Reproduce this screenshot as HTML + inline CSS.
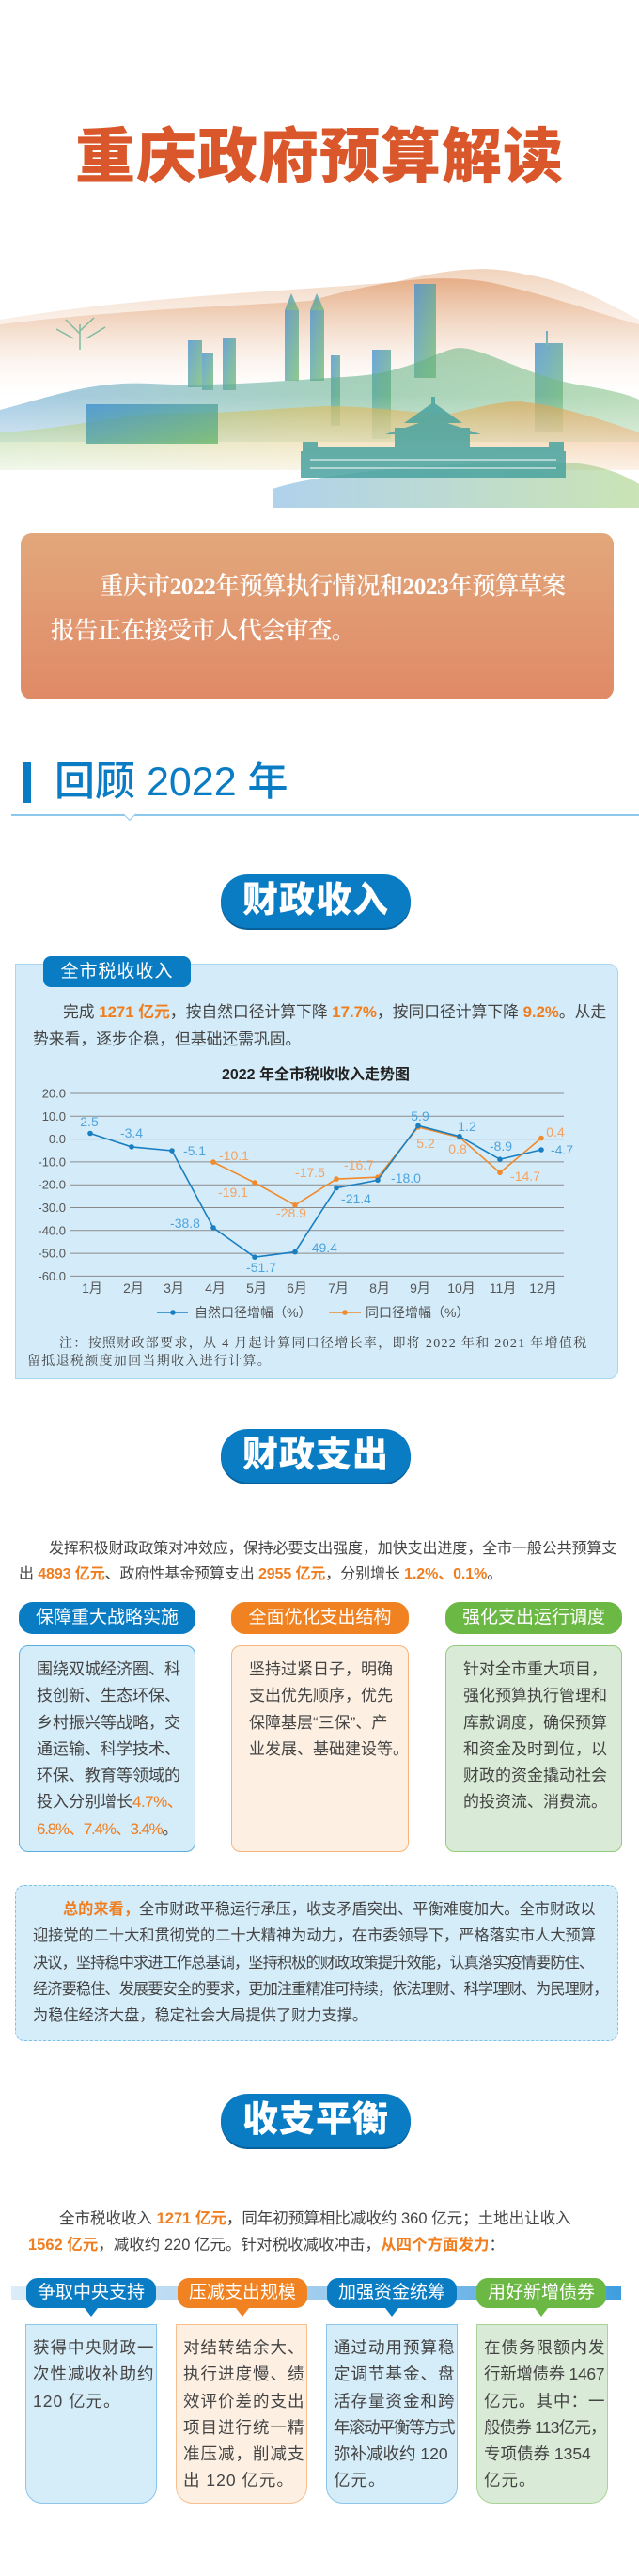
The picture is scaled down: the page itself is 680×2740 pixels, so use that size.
<!DOCTYPE html>
<html><head><meta charset="utf-8">
<style>
*{margin:0;padding:0;box-sizing:border-box}
body{width:680px;height:2740px;background:#fff;position:relative;overflow:hidden;font-family:"Liberation Sans","Noto Sans CJK SC",sans-serif;color:#444}
.a{position:absolute}
.nw{white-space:nowrap}
.title{left:0;width:680px;top:132px;text-align:center;font-size:64px;font-weight:900;color:#d9572b;letter-spacing:1px;line-height:70px}
.obox{left:22px;top:567px;width:631px;height:177px;border-radius:12px;background:linear-gradient(#e2a77b,#e08a66)}
.otext{left:54px;top:600px;width:600px;font-family:"Liberation Serif","Noto Serif CJK SC",serif;font-size:25.5px;line-height:47px;color:#fff;font-weight:600;white-space:nowrap;letter-spacing:-0.6px}
.pill{left:235px;width:202px;height:57px;border-radius:29px;background:#0a7cc4;color:#fff;font-size:38px;font-weight:900;text-align:center;line-height:57px;letter-spacing:1px;box-shadow:0 2px 0 #07609a}
.p{font-size:16px;line-height:28px}
.o{color:#f07d1e;font-weight:bold}
.hd{height:34px;border-radius:15px;color:#fff;font-size:19px;text-align:center;line-height:34px}
.bx{border-radius:10px;padding:11px 0 0 18px;font-size:17px;line-height:28.3px;white-space:nowrap}
.h4{top:2423px;height:32px;border-radius:12px;color:#fff;font-size:19px;text-align:center;line-height:32px;width:138px}
.h4:after{content:"";position:absolute;left:62px;bottom:-9px;border-left:7px solid transparent;border-right:7px solid transparent;border-top:9px solid currentColor}
.b4{top:2472px;height:191px;width:140px;border-radius:0 0 18px 18px;padding:10px 0 0 7px;font-size:17.5px;line-height:28.3px;letter-spacing:1px;white-space:nowrap}
</style></head><body>

<div class="a title">重庆政府预算解读</div>

<svg class="a" style="left:0;top:280px" width="680" height="260" viewBox="0 280 680 260">
<defs>
<linearGradient id="g1" x1="0" y1="0" x2="0" y2="1"><stop offset="0" stop-color="#e4a980"/><stop offset="1" stop-color="#fff" stop-opacity="0"/></linearGradient>
<linearGradient id="g0" x1="0" y1="0" x2="0" y2="1"><stop offset="0" stop-color="#f1d3bc"/><stop offset="1" stop-color="#fff" stop-opacity="0"/></linearGradient>
<linearGradient id="g3" x1="0" y1="0" x2="1" y2="0"><stop offset="0" stop-color="#5a9fd0"/><stop offset=".6" stop-color="#5fae80"/><stop offset="1" stop-color="#7fbf80"/></linearGradient>
<linearGradient id="g4" x1="0" y1="0" x2="1" y2="0"><stop offset="0" stop-color="#8cc060"/><stop offset=".5" stop-color="#d7b040"/><stop offset="1" stop-color="#e68d3a"/></linearGradient>
<linearGradient id="g5" x1="0" y1="0" x2="1" y2="0"><stop offset="0" stop-color="#4f9bd4"/><stop offset="1" stop-color="#8ac25a"/></linearGradient>
<linearGradient id="fade" x1="0" y1="0" x2="0" y2="1"><stop offset="0" stop-color="#fff" stop-opacity="0"/><stop offset="1" stop-color="#fff" stop-opacity="1"/></linearGradient>
<linearGradient id="bd" x1="0" y1="0" x2="1" y2="1"><stop offset="0" stop-color="#3f8fd0"/><stop offset="1" stop-color="#6cb86a"/></linearGradient>
</defs>
<path d="M0,340 C150,315 300,310 420,300 C480,285 520,282 560,292 C610,300 650,325 680,340 L680,420 L0,420Z" fill="url(#g0)"/>
<path d="M0,345 C120,330 260,325 330,320 C400,300 460,290 520,300 C590,315 640,335 680,345 L680,430 L0,430Z" fill="url(#g1)" opacity=".9"/>
<g fill="url(#bd)" opacity=".75">
<rect x="303" y="330" width="15" height="75"/><polygon points="303,330 310,312 318,330"/>
<rect x="330" y="330" width="15" height="75"/><polygon points="330,330 337,312 345,330"/>
<rect x="441" y="302" width="23" height="100"/>
<rect x="200" y="362" width="15" height="50"/><rect x="215" y="375" width="12" height="40"/><rect x="237" y="360" width="14" height="55"/>
<rect x="352" y="378" width="10" height="75"/>
<rect x="396" y="372" width="20" height="95"/>
<rect x="569" y="365" width="30" height="95"/><rect x="581" y="352" width="2" height="15"/>
</g>
<path d="M0,436 C60,420 100,405 160,408 C230,412 300,405 380,400 C440,395 470,370 490,370 C520,372 560,400 620,410 C650,415 670,420 680,425 L680,470 L0,470Z" fill="url(#g3)" opacity=".55"/>
<path d="M0,460 C80,455 130,440 180,440 C240,440 280,435 347,432 C400,432 440,440 480,440 C520,430 545,425 560,428 C600,432 650,450 680,460 L680,500 L0,500Z" fill="url(#g4)" opacity=".6"/>
<rect x="0" y="420" width="680" height="100" fill="url(#fade)"/>
<g fill="url(#bd)" opacity=".8"><rect x="92" y="430" width="140" height="42"/></g>
<path d="M290,520 C350,500 500,490 607,492 C640,495 665,505 680,515 L680,540 L290,540Z" fill="url(#g5)" opacity=".45"/>
<g fill="#4aa3a0" opacity=".85">
<rect x="320" y="480" width="282" height="28"/>
<rect x="330" y="475" width="262" height="6"/>
<rect x="420" y="455" width="80" height="30"/>
<polygon points="430,450 461,428 492,450"/>
<polygon points="410,462 461,445 512,462"/>
<rect x="459" y="422" width="4" height="8"/>
<rect x="322" y="470" width="16" height="12"/><rect x="584" y="470" width="16" height="12"/>
</g>
<g fill="#fff" opacity=".5"><rect x="330" y="488" width="262" height="2"/><rect x="330" y="497" width="262" height="2"/></g>
<g stroke="#60b090" stroke-width="1.5" fill="none" opacity=".8"><path d="M85,372 L85,345 M85,355 L70,340 M85,352 L100,338 M78,360 L60,350 M92,360 L112,348"/></g>
</svg>

<div class="a obox"></div>
<div class="a otext"><span style="padding-left:52px"></span>重庆市2022年预算执行情况和2023年预算草案<br>报告正在接受市人代会审查。</div>

<div class="a" style="left:25px;top:811px;width:8px;height:43px;background:#0a7cc4"></div>
<div class="a" style="left:58px;top:804px;font-size:43px;line-height:56px;color:#0a7cc4;font-weight:500">回顾 2022 年</div>
<div class="a" style="left:12px;top:866px;width:668px;height:1.5px;background:#8cc8ec"></div>
<div class="a" style="left:135px;top:866px;width:10px;height:10px;border-right:1.5px solid #8cc8ec;border-bottom:1.5px solid #8cc8ec;background:#fff;transform:rotate(45deg) translate(-5px,-2px)"></div>

<div class="a pill" style="top:930px">财政收入</div>

<div class="a" style="left:16px;top:1025px;width:642px;height:442px;background:#d4ecf9;border:1px solid #a9d6f1;border-radius:0 10px 10px 0"></div>
<div class="a" style="left:46px;top:1017px;width:157px;height:33px;background:#0a7cc4;border-radius:8px;color:#fff;font-size:19px;line-height:33px;text-align:center;letter-spacing:1px">全市税收收入</div>
<div class="a p nw" style="left:35px;top:1062px;font-size:16.8px;line-height:29px"><span style="padding-left:32px"></span>完成 <span class="o">1271 亿元</span>，按自然口径计算下降 <span class="o">17.7%</span>，按同口径计算下降 <span class="o">9.2%</span>。从走<br>势来看，逐步企稳，但基础还需巩固。</div>

<svg class="a" style="left:0;top:1130px" width="680" height="280" viewBox="0 1130 680 280" font-family="Liberation Sans, Noto Sans CJK SC, sans-serif">
<text x="336" y="1148" text-anchor="middle" font-size="16" font-weight="bold" fill="#222">2022 年全市税收收入走势图</text>
<g stroke="#8a8a8a" stroke-width="1">
<line x1="75" x2="600" y1="1163" y2="1163"/><line x1="75" x2="600" y1="1187.3" y2="1187.3"/><line x1="75" x2="600" y1="1211.6" y2="1211.6"/><line x1="75" x2="600" y1="1235.9" y2="1235.9"/><line x1="75" x2="600" y1="1260.2" y2="1260.2"/><line x1="75" x2="600" y1="1284.5" y2="1284.5"/><line x1="75" x2="600" y1="1308.8" y2="1308.8"/><line x1="75" x2="600" y1="1333.1" y2="1333.1"/><line x1="75" x2="600" y1="1357.4" y2="1357.4"/>
</g>
<g font-size="13" fill="#555" text-anchor="end">
<text x="70" y="1167.5">20.0</text><text x="70" y="1191.8">10.0</text><text x="70" y="1216.1">0.0</text><text x="70" y="1240.4">-10.0</text><text x="70" y="1264.7">-20.0</text><text x="70" y="1289">-30.0</text><text x="70" y="1313.3">-40.0</text><text x="70" y="1337.6">-50.0</text><text x="70" y="1361.9">-60.0</text>
</g>
<polyline fill="none" stroke="#f08a2a" stroke-width="1.6" points="227,1236.1 271,1258 314,1281.8 358,1254.1 402,1252.2 445,1198.9 489,1209.7 532,1247.3 576,1210.6"/>
<g fill="#f08a2a"><circle cx="227" cy="1236.1" r="2.8"/><circle cx="271" cy="1258" r="2.8"/><circle cx="314" cy="1281.8" r="2.8"/><circle cx="358" cy="1254.1" r="2.8"/><circle cx="402" cy="1252.2" r="2.8"/><circle cx="445" cy="1198.9" r="2.8"/><circle cx="489" cy="1209.7" r="2.8"/><circle cx="532" cy="1247.3" r="2.8"/><circle cx="576" cy="1210.6" r="2.8"/></g>
<polyline fill="none" stroke="#1a7fc1" stroke-width="1.6" points="96,1205.5 140,1219.9 183,1224 227,1305.9 271,1337.2 314,1331.6 358,1263.6 402,1255.3 445,1197.3 489,1208.7 532,1233.2 576,1223"/>
<g fill="#1a7fc1"><circle cx="96" cy="1205.5" r="2.8"/><circle cx="140" cy="1219.9" r="2.8"/><circle cx="183" cy="1224" r="2.8"/><circle cx="227" cy="1305.9" r="2.8"/><circle cx="271" cy="1337.2" r="2.8"/><circle cx="314" cy="1331.6" r="2.8"/><circle cx="358" cy="1263.6" r="2.8"/><circle cx="402" cy="1255.3" r="2.8"/><circle cx="445" cy="1197.3" r="2.8"/><circle cx="489" cy="1208.7" r="2.8"/><circle cx="532" cy="1233.2" r="2.8"/><circle cx="576" cy="1223" r="2.8"/></g>
<g font-size="14" fill="#4fa3dd" text-anchor="middle">
<text x="95" y="1198">2.5</text><text x="140" y="1210">-3.4</text><text x="207" y="1229">-5.1</text><text x="197" y="1306">-38.8</text><text x="278" y="1353">-51.7</text><text x="343" y="1332">-49.4</text><text x="379" y="1280">-21.4</text><text x="432" y="1258">-18.0</text><text x="447" y="1192">5.9</text><text x="497" y="1203">1.2</text><text x="533" y="1224">-8.9</text><text x="598" y="1228">-4.7</text>
</g>
<g font-size="14" fill="#f3a262" text-anchor="middle">
<text x="249" y="1234">-10.1</text><text x="248" y="1273">-19.1</text><text x="310" y="1295">-28.9</text><text x="330" y="1252">-17.5</text><text x="382" y="1244">-16.7</text><text x="453" y="1221">5.2</text><text x="487" y="1227">0.8</text><text x="559" y="1256">-14.7</text><text x="591" y="1209">0.4</text>
</g>
<g font-size="14" fill="#555" text-anchor="middle">
<text x="98" y="1375">1月</text><text x="142" y="1375">2月</text><text x="185" y="1375">3月</text><text x="229" y="1375">4月</text><text x="273" y="1375">5月</text><text x="316" y="1375">6月</text><text x="360" y="1375">7月</text><text x="404" y="1375">8月</text><text x="447" y="1375">9月</text><text x="491" y="1375">10月</text><text x="535" y="1375">11月</text><text x="578" y="1375">12月</text>
</g>
<line x1="167" x2="200" y1="1396" y2="1396" stroke="#1a7fc1" stroke-width="1.6"/><circle cx="184" cy="1396" r="2.8" fill="#1a7fc1"/>
<text x="207" y="1401" font-size="14" fill="#555">自然口径增幅（%）</text>
<line x1="350" x2="384" y1="1396" y2="1396" stroke="#f08a2a" stroke-width="1.6"/><circle cx="367" cy="1396" r="2.8" fill="#f08a2a"/>
<text x="389" y="1401" font-size="14" fill="#555">同口径增幅（%）</text>
</svg>
<div class="a" style="left:29px;top:1420px;width:610px;font-family:'Liberation Serif','Noto Serif CJK SC',serif;font-size:14px;line-height:19px;color:#444;text-indent:34px;letter-spacing:1.3px">注：按照财政部要求，从 4 月起计算同口径增长率，即将 2022 年和 2021 年增值税留抵退税额度加回当期收入进行计算。</div>

<div class="a pill" style="top:1520px">财政支出</div>

<div class="a p nw" style="left:20px;top:1634px;line-height:27px;letter-spacing:-0.1px"><span style="padding-left:32px"></span>发挥积极财政政策对冲效应，保持必要支出强度，加快支出进度，全市一般公共预算支<br>出 <span class="o">4893 亿元</span>、政府性基金预算支出 <span class="o">2955 亿元</span>，分别增长 <span class="o">1.2%、0.1%</span>。</div>

<div class="a hd" style="left:20px;top:1704px;width:188px;background:#0a7cc4">保障重大战略实施</div>
<div class="a hd" style="left:246px;top:1704px;width:189px;background:#f08222">全面优化支出结构</div>
<div class="a hd" style="left:474px;top:1704px;width:188px;background:#6cb845">强化支出运行调度</div>
<div class="a bx" style="left:20px;top:1750px;width:188px;height:220px;background:#d5ecf9;border:1.2px solid #5aaee3">围绕双城经济圈、科<br>技创新、生态环保、<br>乡村振兴等战略，交<br>通运输、科学技术、<br>环保、教育等领域的<br>投入分别增长<span style="color:#f07d1e;letter-spacing:-0.5px">4.7%、</span><br><span style="color:#f07d1e;letter-spacing:-1.2px">6.8%、7.4%、3.4%</span>。</div>
<div class="a bx" style="left:246px;top:1750px;width:189px;height:220px;background:#fdf0e3;border:1.2px solid #f8b47a">坚持过紧日子，明确<br>支出优先顺序，优先<br>保障基层“三保”、产<br>业发展、基础建设等。</div>
<div class="a bx" style="left:474px;top:1750px;width:188px;height:220px;background:#d9ebd6;border:1.2px solid #93cc7d">针对全市重大项目，<br>强化预算执行管理和<br>库款调度，确保预算<br>和资金及时到位，以<br>财政的资金撬动社会<br>的投资流、消费流。</div>

<div class="a" style="left:16px;top:2005px;width:642px;height:166px;background:#d5ecf9;border:1.5px dashed #7fc0e8;border-radius:10px"></div>
<div class="a p nw" style="left:35px;top:2017px;line-height:28.3px;font-size:16.2px"><span style="padding-left:32px"></span><span class="o">总的来看，</span>全市财政平稳运行承压，收支矛盾突出、平衡难度加大。全市财政以<br>迎接党的二十大和贯彻党的二十大精神为动力，在市委领导下，严格落实市人大预算<br><span style="letter-spacing:-0.9px">决议，坚持稳中求进工作总基调，坚持积极的财政政策提升效能，认真落实疫情要防住、</span><br><span style="letter-spacing:-0.9px">经济要稳住、发展要安全的要求，更加注重精准可持续，依法理财、科学理财、为民理财，</span><br>为稳住经济大盘，稳定社会大局提供了财力支撑。</div>

<div class="a pill" style="top:2227px">收支平衡</div>

<div class="a p nw" style="left:30px;top:2346px;font-size:16.5px;line-height:28px"><span style="padding-left:33px"></span>全市税收收入 <span class="o">1271 亿元</span>，同年初预算相比减收约 360 亿元；土地出让收入<br><span class="o">1562 亿元</span>，减收约 220 亿元。针对税收减收冲击，<span class="o">从四个方面发力</span>：</div>

<div class="a" style="left:12px;top:2432px;width:649px;height:14px;background:linear-gradient(90deg,#dcecf8,#9fcdee 50%,#3f9ee0)"></div>
<div class="a h4" style="left:28px;background:#0a7cc4;color:#0a7cc4"><span style="color:#fff">争取中央支持</span></div>
<div class="a h4" style="left:189px;background:#f08222;color:#f08222"><span style="color:#fff">压减支出规模</span></div>
<div class="a h4" style="left:348px;background:#0a7cc4;color:#0a7cc4"><span style="color:#fff">加强资金统筹</span></div>
<div class="a h4" style="left:507px;background:#6cb845;color:#6cb845"><span style="color:#fff">用好新增债券</span></div>

<div class="a b4" style="left:27px;background:#d5ecf9;border:1.2px solid #8cc6ec">获得中央财政一<br>次性减收补助约<br>120 亿元。</div>
<div class="a b4" style="left:187px;background:#fdf0e3;border:1.2px solid #f8c08e">对结转结余大、<br>执行进度慢、绩<br>效评价差的支出<br>项目进行统一精<br>准压减，削减支<br>出 120 亿元。</div>
<div class="a b4" style="left:347px;background:#d5ecf9;border:1.2px solid #8cc6ec">通过动用预算稳<br>定调节基金、盘<br>活存量资金和跨<br><span style="letter-spacing:-1.5px">年滚动平衡等方式</span><br><span style="letter-spacing:0">弥补减收约 120</span><br>亿元。</div>
<div class="a b4" style="left:507px;background:#d9ebd6;border:1.2px solid #a8d49a">在债务限额内发<br><span style="letter-spacing:-0.3px">行新增债券 1467</span><br>亿元。其中：一<br><span style="letter-spacing:-0.8px">般债券 113亿元，</span><br><span style="letter-spacing:0">专项债券 1354</span><br>亿元。</div>

</body></html>
